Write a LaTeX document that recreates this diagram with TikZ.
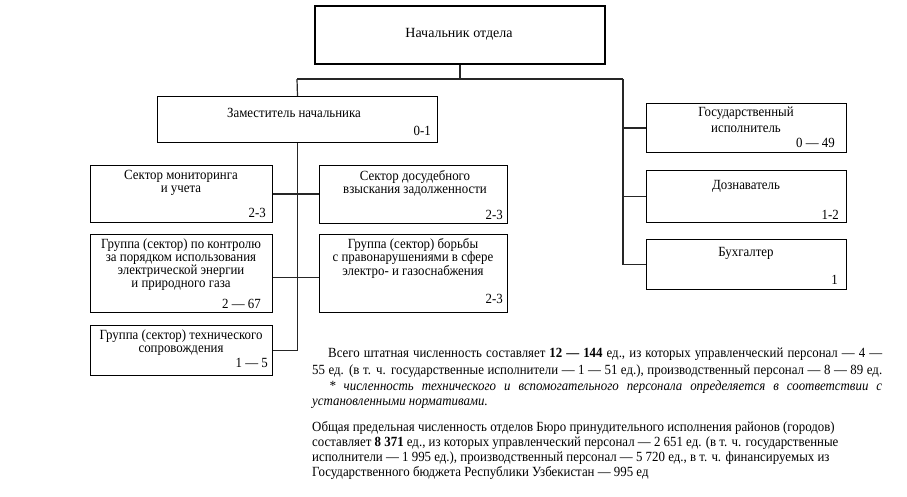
\documentclass[tikz,border=0pt]{standalone}
\usepackage{fontspec}
\setmainfont{Liberation Serif}[FakeStretch=0.92]
\newfontfamily\plainserif{Liberation Serif}
\newcommand\fs{\fontsize{14}{13}\selectfont}
\newcommand\fsg{\fontsize{14}{16}\selectfont}
\newcommand\fsb{\plainserif\fontsize{14}{16}\selectfont}
\begin{document}
\begin{tikzpicture}[x=1pt,y=-1pt,
  box/.style={draw=black, line width=1pt, inner sep=0, anchor=north west, fill=white},
  ttl/.style={align=center, inner sep=0, font=\fs},
  num/.style={anchor=east, inner sep=0, font=\fs},
  conn/.style={line width=1.2pt, draw=black!85},
  ln/.style={anchor=base west, inner sep=0, font=\fontsize{14}{16}\selectfont}]
\useasboundingbox[fill=white] (0,0) rectangle (907,496);

% boxes
\node[box, line width=1.8pt, minimum width=290pt, minimum height=58pt] (boss) at (314,5) {};
\node[box, minimum width=280pt, minimum height=46pt] (dep) at (157,96) {};
\node[box, minimum width=182pt, minimum height=57pt] (mon) at (90,165) {};
\node[box, minimum width=182pt, minimum height=78pt] (kont) at (90,234) {};
\node[box, minimum width=182pt, minimum height=50pt] (tech) at (90,325) {};
\node[box, minimum width=188pt, minimum height=58pt] (dos) at (319,165) {};
\node[box, minimum width=188pt, minimum height=78pt] (bor) at (319,234) {};
\node[box, minimum width=200pt, minimum height=49pt] (gos) at (646,103) {};
\node[box, minimum width=200pt, minimum height=52pt] (dozn) at (646,170) {};
\node[box, minimum width=200pt, minimum height=50pt] (buh) at (646,239) {};

% connectors
\coordinate (busL) at (297,79);
\coordinate (busR) at (623,79);
\draw[conn] (boss.south) -- (boss.south |- busL);
\draw[conn] (busL) -- (busR);
\draw[conn] (busL) -- (dep.north);
\draw[conn] (busR) -- (busR |- buh.west) -- (buh.west);
\draw[conn] (busR |- gos.west) -- (gos.west);
\draw[conn] (busR |- dozn.west) -- (dozn.west);
\draw[conn] (dep.south) -- (dep.south |- tech.east) -- (tech.east);
\draw[conn] (mon.east) -- (mon.east -| dos.west);
\draw[conn] ([yshift=-4pt]kont.east) -- ([yshift=-4pt]kont.east -| bor.west);

% box texts
\node[ttl, font=\fsb] (tboss) at (459,34) {Начальник отдела};
\node[ttl] (tdep) at (294,113) {Заместитель начальника};
\node[num] (ndep) at (431,131) {0-1};
\node[ttl] (tmon) at (181,182.5) {Сектор мониторинга\\и учета};
\node[num] (nmon) at (266,213) {2-3};
\node[ttl] (tdos) at (415,183) {Сектор досудебного\\взыскания задолженности};
\node[num] (ndos) at (503,215) {2-3};
\node[ttl] (tkont) at (181,265) {Группа (сектор) по контролю\\за порядком использования\\электрической энергии\\и природного газа};
\node[num] (nkont) at (261,304) {2 — 67};
\node[ttl] (tbor) at (413,258) {Группа (сектор) борьбы\\с правонарушениями в сфере\\электро- и газоснабжения};
\node[num] (nbor) at (503,299) {2-3};
\node[ttl] (ttech) at (181,342.5) {Группа (сектор) технического\\сопровождения};
\node[num] (ntech) at (268,363) {1 — 5};
\node[ttl, font=\fsg] (tgos) at (746,120) {Государственный\\исполнитель};
\node[num] (ngos) at (835,143) {0 — 49};
\node[ttl] (tdozn) at (746,186) {Дознаватель};
\node[num] (ndozn) at (839,215) {1-2};
\node[ttl] (tbuh) at (746,253) {Бухгалтер};
\node[num] (nbuh) at (838,280) {1};

% paragraph 1
\node[ln] (p1) at (312,357) {\hbox to 570pt{\hspace{16pt}Всего штатная численность составляет \textbf{12 — 144} ед., из которых управленческий персонал — 4 —}};
\node[ln] (p2) at (312,374) {\hbox to 570pt{55 ед. (в т. ч. государственные исполнители — 1 — 51 ед.), производственный персонал — 8 — 89 ед.}};
\node[ln] (p3) at (312,390) {\hbox to 570pt{\itshape\hspace{17pt}* численность технического и вспомогательного персонала определяется в соответствии с}};
\node[ln] (p4) at (312,405) {\itshape установленными нормативами.};
% paragraph 2
\node[ln] (q1) at (312,431) {Общая предельная численность отделов Бюро принудительного исполнения районов (городов)};
\node[ln] (q2) at (312,446) {составляет \textbf{8 371} ед., из которых управленческий персонал — 2 651 ед. (в т. ч. государственные};
\node[ln] (q3) at (312,461) {исполнители — 1 995 ед.), производственный персонал — 5 720 ед., в т. ч. финансируемых из};
\node[ln] (q4) at (312,476) {Государственного бюджета Республики Узбекистан — 995 ед};
\end{tikzpicture}
\end{document}
